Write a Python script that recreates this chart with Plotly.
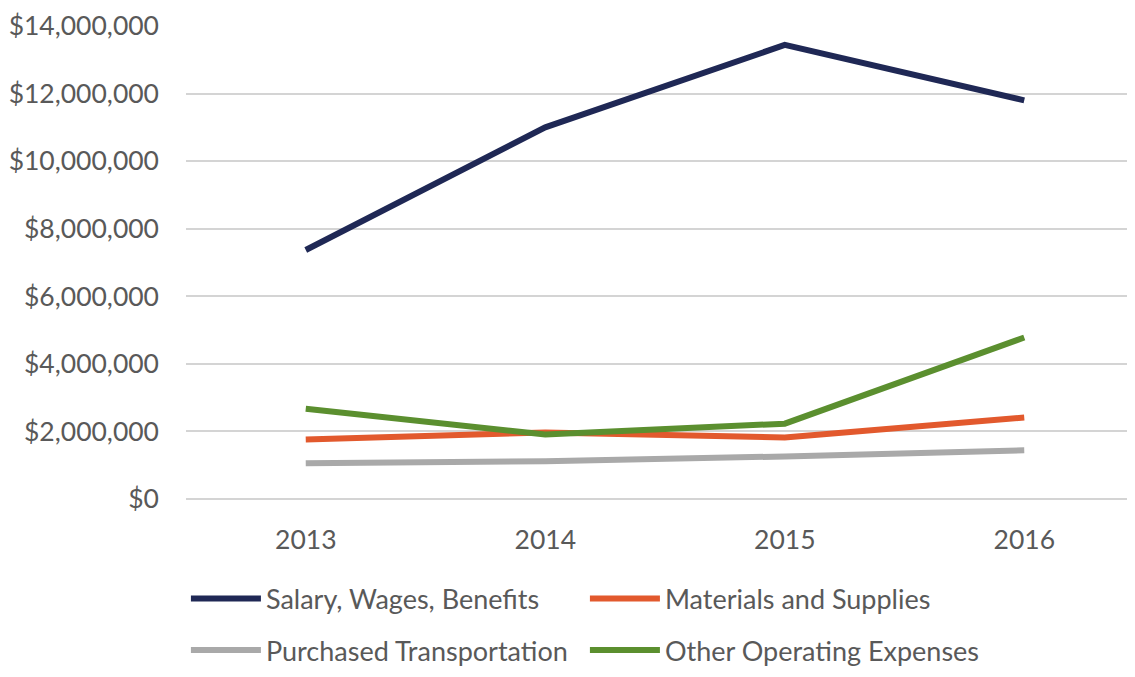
import plotly.graph_objects as go

years = ['2013', '2014', '2015', '2016']
salary = [7370000, 11000000, 13440000, 11800000]
materials = [1760000, 1970000, 1820000, 2410000]
transport = [1060000, 1120000, 1260000, 1440000]
other = [2670000, 1910000, 2230000, 4780000]

series = [
    ('Salary, Wages, Benefits', salary, '#1f2855', 'legend'),
    ('Materials and Supplies', materials, '#e2592d', 'legend'),
    ('Purchased Transportation', transport, '#a9a9a9', 'legend2'),
    ('Other Operating Expenses', other, '#5b8f2f', 'legend2'),
]

fig = go.Figure()
for name, vals, color, leg in series:
    fig.add_trace(go.Scatter(
        x=years, y=vals, name=name, mode='lines',
        line=dict(color=color, width=6), legend=leg,
        hovertemplate="<b>%{x}</b><br>$%{y:,.0f}"
    ))

# two one-row legends (container refs so they don't push the margins)
leg_style = dict(
    orientation='h', xanchor='left', yanchor='middle',
    xref='container', yref='container',
    entrywidth=314, entrywidthmode='pixels', itemwidth=70,
    font=dict(size=27, color='#595959'), bgcolor='rgba(0,0,0,0)',
)

fig.update_layout(
    width=1119, height=661,
    margin=dict(l=178, r=0, t=18, b=170),
    paper_bgcolor='white', plot_bgcolor='white',
    font=dict(family='Lato', size=26, color='#595959'),
    showlegend=True,
    legend=dict(x=0.159, y=0.106, **leg_style),
    legend2=dict(x=0.159, y=0.028, **leg_style),
)
fig.update_xaxes(
    range=[-0.5, 3.429], showgrid=False, showline=False, ticks='',
    tickfont=dict(size=26.5), ticklabelstandoff=22, automargin=False,
)
fig.update_yaxes(
    range=[0, 14000000], dtick=2000000, tickformat='$,.0f',
    showgrid=True, gridcolor='#d4d4d4', gridwidth=2,
    zeroline=True, zerolinecolor='#d4d4d4', zerolinewidth=2,
    ticks='', ticklabelstandoff=26, tickfont=dict(size=26.5), automargin=False,
    ticklabeloverflow='allow',
)

fig.write_html("out.html")
